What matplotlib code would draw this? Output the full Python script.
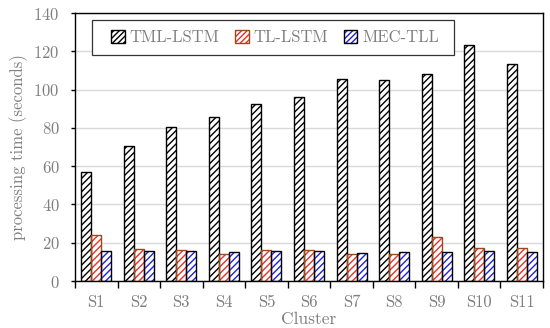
import numpy as np
import matplotlib.pyplot as plt

plt.rcParams['font.family'] = ['cmr10', 'DejaVu Serif']
plt.rcParams['axes.formatter.use_mathtext'] = True
plt.rcParams['hatch.linewidth'] = 1.0

clusters = ["S1", "S2", "S3", "S4", "S5", "S6", "S7", "S8", "S9", "S10", "S11"]
tml_lstm = [57, 70.5, 80.5, 85.5, 92.5, 96, 105.5, 105.2, 108, 123.5, 113.5]
tl_lstm = [24, 16.8, 16.4, 14.2, 16.2, 16.2, 14.2, 14.0, 23.2, 17.1, 17.1]
mec_tll = [15.7, 15.7, 15.9, 15.4, 15.5, 15.7, 14.8, 15.0, 15.4, 15.9, 15.2]

series = [
    ("TML-LSTM", tml_lstm, "black", "black"),
    ("TL-LSTM", tl_lstm, "#e8302a", "#9a4a1a"),
    ("MEC-TLL", mec_tll, "#1f1fe0", "black"),
]

gray = "#7f7f7f"
x = np.arange(len(clusters))
w = 0.235

fig = plt.figure(figsize=(5.5, 3.28), dpi=100)
ax = fig.add_axes([75 / 550, 1 - 281 / 328, 468 / 550, 268 / 328])

handles = []
for i, (name, vals, hcol, ecol) in enumerate(series):
    pos = x + (i - 1) * w
    ax.bar(pos, vals, w, color="white", edgecolor=hcol, hatch="/////", linewidth=0, zorder=2)
    ax.bar(pos, vals, w, fill=False, edgecolor=ecol, linewidth=1.0, zorder=3)
    h = plt.Rectangle((0, 0), 1, 1, facecolor="white", edgecolor=hcol, hatch="//////", linewidth=0)
    handles.append((h, plt.Rectangle((0, 0), 1, 1, fill=False, edgecolor=ecol, linewidth=1.0)))

ax.set_xlim(-0.5, len(clusters) - 0.5)
ax.set_ylim(0, 140)
ax.set_yticks(np.arange(0, 141, 20))
ax.yaxis.grid(True, color="#d9d9d9", linewidth=1.0, zorder=0)
ax.set_axisbelow(True)

ax.set_xticks(x)
ax.set_xticklabels(clusters)
ax.set_xticks(np.arange(-0.5, len(clusters), 1), minor=True)
ax.tick_params(axis="x", which="major", length=0, pad=10, labelcolor=gray, labelsize=12)
ax.tick_params(axis="x", which="minor", length=5, width=1, direction="out")
ax.tick_params(axis="y", length=3, width=1, direction="out", labelcolor=gray, labelsize=12, pad=8)

for s in ax.spines.values():
    s.set_linewidth(1.0)

ax.set_xlabel("Cluster", color=gray, fontsize=12.5, labelpad=1)
ax.set_ylabel("processing time (seconds)", color=gray, fontsize=12, labelpad=4)

# legend frame drawn separately so the padding matches the original
x0, x1 = (92 - 75) / 468, (454 - 75) / 468
y0, y1 = (281 - 55) / 268, (281 - 20) / 268
frame = plt.Rectangle((x0, y0), x1 - x0, y1 - y0, transform=ax.transAxes,
                      facecolor="white", edgecolor="#333333", linewidth=0.9, zorder=4)
ax.add_patch(frame)
leg = ax.legend(handles, [s[0] for s in series], ncol=3, loc="center",
                bbox_to_anchor=((x0 + x1) / 2 + 0.005, (y0 + y1) / 2), frameon=False,
                fontsize=12, labelcolor=gray,
                handlelength=0.8, handleheight=0.8, columnspacing=0.95,
                handletextpad=0.3, borderpad=0, borderaxespad=0)
leg.set_zorder(5)

fig.savefig("out.png", dpi=100)
